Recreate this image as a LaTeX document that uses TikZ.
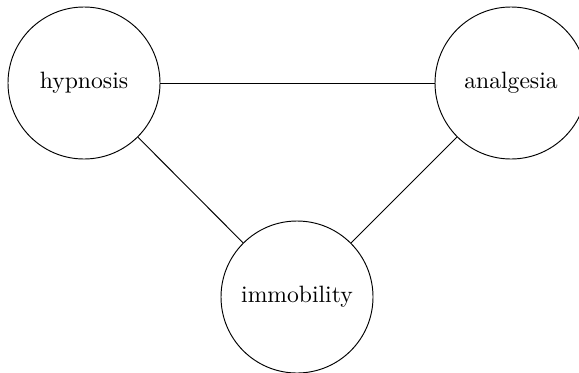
\documentclass[tikz,border=0pt]{standalone}
\usetikzlibrary{arrows}
\begin{document}
\begin{tikzpicture}[x=0.423pt, y=-0.423pt,
			state/.style={circle, draw, minimum size=64.3pt, inner sep=0pt}]
			\useasboundingbox (0,0) rectangle (579,372);
			\node [state] (hypnosis) at (84,83) {hypnosis};
			\node [state] (analgesia) at (511,83) {analgesia};
			\node [state] (immobility) at (297,297) {immobility};
			\draw (hypnosis) -- (analgesia);
			\draw (hypnosis) -- (immobility);
			\draw (analgesia) -- (immobility);
		\end{tikzpicture}
\end{document}
